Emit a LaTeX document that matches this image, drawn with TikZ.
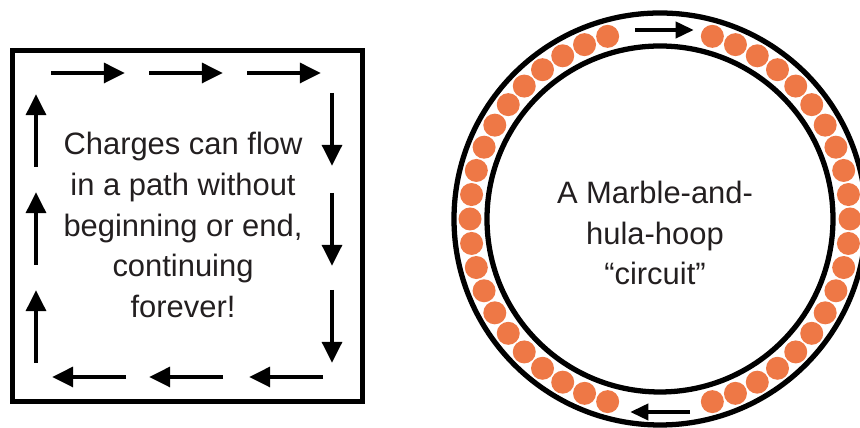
\documentclass[tikz,border=0pt]{standalone}
\usepackage{fontspec}
\setmainfont{Liberation Sans}
\usetikzlibrary{arrows.meta}
\definecolor{marble}{RGB}{238,120,70}
\definecolor{inktext}{RGB}{35,31,32}
\begin{document}
\begin{tikzpicture}[x=0.02cm, y=0.02cm,
        flow/.style={line width=2.8pt, -{Triangle[length=12pt, width=11pt]}},
        hoopflow/.style={line width=2.8pt, -{Triangle[length=10.5pt, width=9pt]}},
        caption/.style={align=center, text=inktext, font=\fontsize{17.6}{23.2}\selectfont}]
                \clip (0,0) rectangle (860,428);
                % The box and its flow
                \draw[line width=3pt] (12.5,26.5) rectangle (362.5,377.5);
                \foreach \x in {51,149,247}
                    \draw[flow] (\x,355) -- ++(74,0);
                \foreach \y in {335,235,138}
                    \draw[flow] (332,\y) -- ++(0,-73);
                \foreach \x in {323,223,126}
                    \draw[flow] (\x,51) -- ++(-74,0);
                \foreach \y in {65,163,261}
                    \draw[flow] (36,\y) -- ++(0,73);
                \node[caption] (boxtext) at (183,203) {Charges can flow\\in a path without\\beginning or end,\\continuing\\forever!};

                % The hoop
                \draw[line width=3pt] (660,209) circle (206);
                \draw[line width=3pt] (660,209) circle (173);
                % Marbles on both sides, gap at top and bottom
                \foreach \i in {0,...,20} {
                    \fill[marble] (660,209) ++(74-\i*7.4:190) circle (11.5);
                    \fill[marble] (660,209) ++(106+\i*7.4:190) circle (11.5);
                }
                \draw[hoopflow] (635,398) -- (694,398);
                \draw[hoopflow] (690,16) -- (630,16);
                \node[caption] (hooptext) at (655,195) {A Marble-and-\\hula-hoop\\“circuit”};
            \end{tikzpicture}
\end{document}
